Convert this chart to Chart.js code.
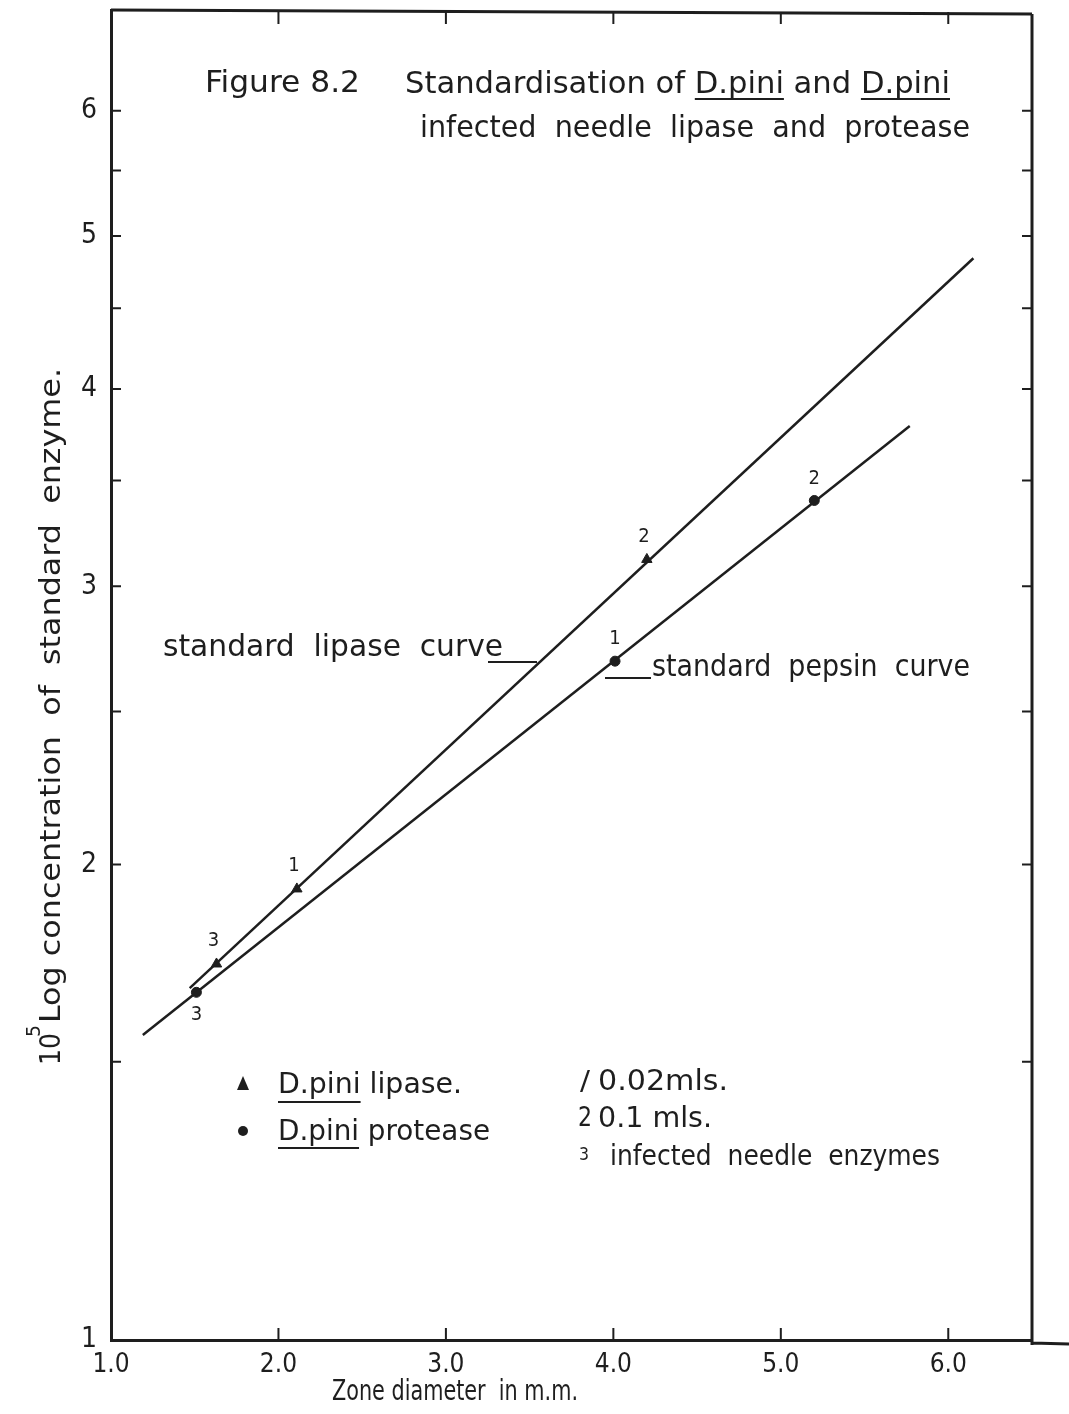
<!DOCTYPE html>
<html><head><meta charset="utf-8">
<script src="https://cdn.jsdelivr.net/npm/chart.js@4.4.1/dist/chart.umd.min.js"></script>
<style>html,body{margin:0;padding:0;background:#fff;}#wrap{width:1069px;height:1414px;}</style>
</head><body><div id="wrap"><canvas id="c" width="1069" height="1414"></canvas></div>
<script>
// ---- data ----
const lipaseCurveX = [1.47, 6.15];
const lipaseCurveY = [1.67, 4.84];
const pepsinCurveX = [1.19, 5.77];
const pepsinCurveY = [1.56, 3.79];
const lipasePointX = [1.63, 2.11, 4.20];
const lipasePointY = [1.73, 1.93, 3.12];
const lipasePointTags = ['3', '1', '2'];
const proteasePointX = [1.51, 4.01, 5.20];
const proteasePointY = [1.66, 2.69, 3.40];
const proteasePointTags = ['3', '1', '2'];
const xTickValues = [1, 2, 3, 4, 5, 6];
const xTickLabels = ['1.0', '2.0', '3.0', '4.0', '5.0', '6.0'];
const yTickValues = [1, 1.5, 2, 2.5, 3, 3.5, 4, 4.5, 5, 5.5, 6];
const yTickLabels = ['1', '', '2', '', '3', '', '4', '', '5', '', '6'];

const FONT = "'DejaVu Sans Condensed','Liberation Sans Narrow','DejaVu Sans',sans-serif";
const INK = '#1e1e1e';

const zip = (xs, ys) => xs.map((x, i) => ({x, y: ys[i]}));

function fitText(ctx, text, x, y, width, size) {
  ctx.font = size + 'px ' + FONT;
  const w = ctx.measureText(text).width;
  const s = width / w;
  ctx.save();
  ctx.translate(x, y);
  ctx.scale(s, 1);
  ctx.textAlign = 'left';
  ctx.textBaseline = 'alphabetic';
  ctx.fillText(text, 0, 0);
  ctx.restore();
  return s;
}
function underlineWord(ctx, text, word, occurrence, x, s, uy, size) {
  ctx.font = size + 'px ' + FONT;
  let idx = -1;
  for (let k = 0; k <= occurrence; k++) idx = text.indexOf(word, idx + 1);
  const a = ctx.measureText(text.slice(0, idx)).width * s;
  const b = ctx.measureText(text.slice(0, idx + word.length)).width * s;
  ctx.beginPath(); ctx.moveTo(x + a, uy); ctx.lineTo(x + b, uy); ctx.stroke();
}

const decor = {
  id: 'decor',
  afterDraw(chart) {
    const ctx = chart.ctx, xs = chart.scales.x, ys = chart.scales.y, ca = chart.chartArea;
    ctx.save();
    ctx.strokeStyle = INK; ctx.fillStyle = INK;
    // frame: top and right
    ctx.lineWidth = 3;
    ctx.beginPath();
    ctx.moveTo(ca.left, ca.top); ctx.lineTo(ca.right, ca.top + 4);
    ctx.moveTo(ca.right, ca.top + 4); ctx.lineTo(ca.right, ca.bottom + 5);
    ctx.moveTo(ca.right, ca.bottom + 3); ctx.lineTo(chart.width, ca.bottom + 4);
    ctx.stroke();
    // inward ticks
    ctx.lineWidth = 2;
    ctx.beginPath();
    xTickValues.slice(1).forEach(v => {
      const px = xs.getPixelForValue(v);
      ctx.moveTo(px, ca.bottom); ctx.lineTo(px, ca.bottom - 12);
      ctx.moveTo(px, ca.top + 2); ctx.lineTo(px, ca.top + 14);
    });
    yTickValues.slice(1).forEach(v => {
      const py = ys.getPixelForValue(v);
      ctx.moveTo(ca.left, py); ctx.lineTo(ca.left + 10, py);
      ctx.moveTo(ca.right, py); ctx.lineTo(ca.right - 10, py);
    });
    ctx.stroke();

    // point tags
    ctx.font = '20px ' + FONT; ctx.textAlign = 'center'; ctx.textBaseline = 'middle';
    const lm = chart.getDatasetMeta(2), pm = chart.getDatasetMeta(3);
    lm.data.forEach((el, i) => ctx.fillText(lipasePointTags[i], el.x - 3, el.y - 23));
    pm.data.forEach((el, i) => {
      const dy = proteasePointTags[i] === '3' ? 22 : -22;
      ctx.fillText(proteasePointTags[i], el.x, el.y + dy);
    });

    ctx.lineWidth = 2;
    // title
    fitText(ctx, 'Figure 8.2', 205, 92, 155, 30);
    const t1 = 'Standardisation of D.pini and D.pini';
    const s1 = fitText(ctx, t1, 405, 93, 545, 30);
    underlineWord(ctx, t1, 'D.pini', 0, 405, s1, 99, 30);
    underlineWord(ctx, t1, 'D.pini', 1, 405, s1, 99, 30);
    fitText(ctx, 'infected  needle  lipase  and  protease', 420, 137, 550, 30);

    // curve labels
    fitText(ctx, 'standard  lipase  curve', 163, 656, 340, 30);
    ctx.beginPath(); ctx.moveTo(488, 662); ctx.lineTo(537, 662); ctx.stroke();
    fitText(ctx, 'standard  pepsin  curve', 652, 676, 318, 30);
    ctx.beginPath(); ctx.moveTo(605, 678); ctx.lineTo(651, 678); ctx.stroke();

    // legend
    ctx.beginPath(); ctx.moveTo(243, 1076); ctx.lineTo(249, 1090); ctx.lineTo(237, 1090); ctx.closePath(); ctx.fill();
    ctx.beginPath(); ctx.arc(243, 1131, 5, 0, Math.PI * 2); ctx.fill();
    const l1 = 'D.pini lipase.';
    const ls1 = fitText(ctx, l1, 278, 1093, 184, 28);
    underlineWord(ctx, l1, 'D.pini', 0, 278, ls1, 1102, 28);
    const l2 = 'D.pini protease';
    const ls2 = fitText(ctx, l2, 278, 1140, 212, 28);
    underlineWord(ctx, l2, 'D.pini', 0, 278, ls2, 1148, 28);

    fitText(ctx, '/', 580, 1090, 10, 26);
    fitText(ctx, '0.02mls.', 598, 1090, 130, 28);
    fitText(ctx, '2', 578, 1126, 14, 26);
    fitText(ctx, '0.1 mls.', 598, 1127, 114, 28);
    fitText(ctx, '3', 579, 1160, 10, 18);
    fitText(ctx, 'infected  needle  enzymes', 610, 1165, 330, 28);

    // axis titles
    fitText(ctx, 'Zone diameter  in m.m.', 332, 1400, 246, 28);
    ctx.save();
    ctx.translate(60, 1065);
    ctx.rotate(-Math.PI / 2);
    fitText(ctx, '10', 0, 0, 32, 28);
    fitText(ctx, '5', 28, -20, 12, 20);
    fitText(ctx, 'Log concentration  of  standard  enzyme.', 42, 0, 655, 28);
    ctx.restore();
    ctx.restore();
  }
};

Chart.defaults.font.family = FONT;
Chart.defaults.color = INK;

new Chart(document.getElementById('c'), {
  type: 'scatter',
  data: {
    datasets: [
      {label: 'standard lipase curve', data: zip(lipaseCurveX, lipaseCurveY), showLine: true,
       borderColor: INK, borderWidth: 2.5, pointRadius: 0, fill: false},
      {label: 'standard pepsin curve', data: zip(pepsinCurveX, pepsinCurveY), showLine: true,
       borderColor: INK, borderWidth: 2.5, pointRadius: 0, fill: false},
      {label: 'D.pini lipase', data: zip(lipasePointX, lipasePointY), pointStyle: 'triangle',
       pointRadius: 6, backgroundColor: INK, borderColor: INK, borderWidth: 1},
      {label: 'D.pini protease', data: zip(proteasePointX, proteasePointY), pointStyle: 'circle',
       pointRadius: 5, backgroundColor: INK, borderColor: INK, borderWidth: 1}
    ]
  },
  options: {
    responsive: false,
    animation: false,
    devicePixelRatio: 1,
    layout: {padding: {left: 0, right: 37, top: 10, bottom: 0}},
    plugins: {legend: {display: false}, tooltip: {enabled: false}, title: {display: false}},
    scales: {
      x: {
        type: 'linear', min: 1, max: 6.5,
        afterBuildTicks: s => { s.ticks = xTickValues.map(v => ({value: v})); },
        afterFit: s => { s.height = 74; s.paddingLeft = 0; s.paddingRight = 0; },
        ticks: {autoSkip: false, maxRotation: 0, padding: 10, font: {size: 26},
                callback: v => { const i = xTickValues.indexOf(v); return i >= 0 ? xTickLabels[i] : ''; }},
        grid: {drawOnChartArea: false, drawTicks: false},
        border: {display: true, color: INK, width: 3}
      },
      y: {
        type: 'logarithmic', min: 1, max: 6.95,
        afterBuildTicks: s => { s.ticks = yTickValues.map(v => ({value: v})); },
        afterFit: s => { s.width = 111; s.paddingTop = 0; s.paddingBottom = 0; },
        ticks: {autoSkip: false, padding: 14, font: {size: 28},
                callback: v => { const i = yTickValues.indexOf(v); return i >= 0 ? yTickLabels[i] : ''; }},
        grid: {drawOnChartArea: false, drawTicks: false},
        border: {display: true, color: INK, width: 3}
      }
    }
  },
  plugins: [decor]
});
</script></body></html>
